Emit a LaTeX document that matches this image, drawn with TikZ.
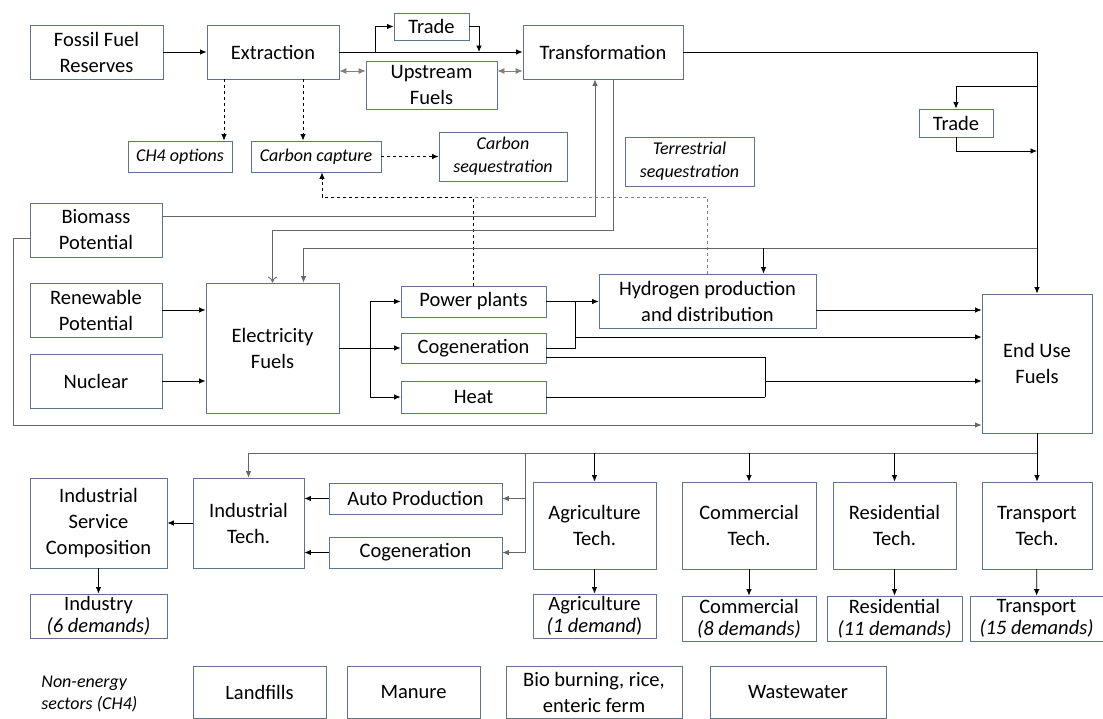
\documentclass[tikz,border=0pt]{standalone}
\usepackage{fontspec}
\setmainfont{Carlito}
\usetikzlibrary{arrows.meta,calc}

\definecolor{boxline}{RGB}{95,115,140}

\begin{document}
\begin{tikzpicture}
[
	              x = 1pt,
	              y = -1pt,
	     line width = 0.8pt,
	           >= {Latex[length=6.5pt,width=5.5pt]},
	  block/.style = { draw=boxline, fill=white, align=center, inner sep=0pt,
	                   font=\fontsize{20.5}{26}\selectfont },
	 demand/.style = { block, font=\fontsize{20.5}{22}\selectfont },
	   note/.style = { block, font=\fontsize{18}{23}\selectfont\itshape },
	   soft/.style = { draw=black!60 },
	 twoway/.style = { {Latex[length=7pt,width=6pt]}-{Latex[length=7pt,width=6pt]}, draw=gray, fill=gray }
]
	\useasboundingbox (0,0) rectangle (1103,718);

	\node (fossil)   at (96.5,52)     [block, minimum width=133, minimum height=54]  {Fossil Fuel\\Reserves};
	\node (extract)  at (273,52)      [block, minimum width=132, minimum height=54]  {Extraction};
	\node (tradeA)   at (431.5,26.5)  [block, minimum width=75,  minimum height=27]  {Trade};
	\node (upstream) at (431.5,85)    [block, minimum width=131, minimum height=48]  {Upstream\\Fuels};
	\node (transf)   at (603,52)      [block, minimum width=160, minimum height=54]  {Transformation};

	\node (ch4)      at (180,156.5)   [note,  minimum width=104, minimum height=31]  {CH4 options};
	\node (ccap)     at (316,156.5)   [note,  minimum width=130, minimum height=31]  {Carbon capture};
	\node (cseq)     at (503,156.5)   [note,  minimum width=128, minimum height=49]  {Carbon\\sequestration};
	\node (terr)     at (689.5,161.5) [note,  minimum width=129, minimum height=49]  {Terrestrial\\sequestration};
	\node (tradeB)   at (956,123)     [block, minimum width=74,  minimum height=28]  {Trade};

	\node (biomass)  at (96,230)      [block, minimum width=132, minimum height=54]  {Biomass\\Potential};
	\node (renew)    at (96,310)      [block, minimum width=132, minimum height=54]  {Renewable\\Potential};
	\node (nuclear)  at (96,381)      [block, minimum width=132, minimum height=54]  {Nuclear};
	\node (elec)     at (272.5,348)   [block, minimum width=133, minimum height=130] {Electricity\\Fuels};
	\node (power)    at (473.5,301.5) [block, minimum width=145, minimum height=31]  {Power plants};
	\node (cogenA)   at (473.5,348)   [block, minimum width=145, minimum height=30]  {Cogeneration};
	\node (heat)     at (473.5,397)   [block, minimum width=145, minimum height=32]  {Heat};
	\node (hydro)    at (707.5,301)   [block, minimum width=217, minimum height=54]  {Hydrogen production\\and distribution};
	\node (euf)      at (1037,363.5)  [block, minimum width=110, minimum height=139] {End Use\\Fuels};

	\node (isc)      at (98.5,523)    [block, minimum width=137, minimum height=90]  {Industrial\\Service\\Composition};
	\node (indtech)  at (248.5,523)   [block, minimum width=111, minimum height=90]  {Industrial\\Tech.};
	\node (auto)     at (415.5,498.5) [block, minimum width=173, minimum height=31]  {Auto Production};
	\node (cogenB)   at (415.5,552.5) [block, minimum width=173, minimum height=31]  {Cogeneration};
	\node (agtech)   at (594.5,525.5) [block, minimum width=123, minimum height=87]  {Agriculture\\Tech.};
	\node (comtech)  at (749,525.5)   [block, minimum width=134, minimum height=87]  {Commercial\\Tech.};
	\node (restech)  at (894.5,525.5) [block, minimum width=123, minimum height=87]  {Residential\\Tech.};
	\node (trtech)   at (1037,525.5)  [block, minimum width=110, minimum height=87]  {Transport\\Tech.};

	\node (industry) at (98.5,616)    [demand, minimum width=137, minimum height=44] {Industry\\\textit{(6 demands)}};
	\node (agri)     at (594.5,616)   [demand, minimum width=123, minimum height=44] {Agriculture\\\textit{(1 demand})};
	\node (comm)     at (749,618.5)   [demand, minimum width=134, minimum height=45] {Commercial\\\textit{(8 demands)}};
	\node (resid)    at (894.5,618.5) [demand, minimum width=135, minimum height=45] {Residential\\\textit{(11 demands)}};
	\node (transp)   at (1036.5,618.5)[demand, minimum width=133, minimum height=45] {Transport\\\textit{(15 demands)}};

	\node (nonen)    at (41,694)      [anchor=west, align=left, inner sep=0pt,
	                                   font=\fontsize{18}{22}\selectfont\itshape]    {Non-energy\\sectors (CH4)};
	\node (landfill) at (259.5,692)   [block, minimum width=133, minimum height=52]  {Landfills};
	\node (manure)   at (413.5,692)   [block, minimum width=133, minimum height=52]  {Manure};
	\node (bioburn)  at (594,692)     [block, minimum width=176, minimum height=52]  {Bio burning, rice,\\enteric ferm};
	\node (waste)    at (798,692)     [block, minimum width=176, minimum height=52]  {Wastewater};

	\coordinate (trsplit)   at (375,52);
	\coordinate (trjoin)    at (479,52);
	\coordinate (tbsplit)   at (1037,86);
	\coordinate (tbjoin)    at (1037,151);
	\coordinate (busH)      at (1037,248);
	\coordinate (dashjoin)  at (473.5,197);
	\coordinate (elsplit)   at (370,348);
	\coordinate (ppjoin)    at (575,301.5);
	\coordinate (htjoin)    at (765,397);
	\coordinate (bioloop)   at (13,425);
	\coordinate (busL)      at (1037,453);
	\coordinate (autosplit) at (525,453);
	\coordinate (exA)       at ([xshift=-49pt]extract.south);
	\coordinate (exB)       at ([xshift=30pt]extract.south);
	\coordinate (hyin)      at ([xshift=56pt]hydro.north);
	\coordinate (hyout)     at ([yshift=-9pt]hydro.east);

	\draw [->] (fossil) -- (extract);
	\draw [->] (extract) -- (transf);
	\draw [->] (trsplit) |- (tradeA);
	\draw [->] (tradeA) -| (trjoin);
	\draw [twoway] ([yshift=-19pt]extract.east) -- ([yshift=14pt]upstream.west);
	\draw [twoway] ([yshift=14pt]upstream.east) -- ([yshift=-19pt]transf.west);

	\draw [->, dashed] (exA) -- (exA |- ch4.north);
	\draw [->, dashed] (exB) -- (exB |- ccap.north);
	\draw [->, dashed] (ccap) -- (cseq);
	\draw [->, dashed] (power) -- (dashjoin) -| ([xshift=6pt]ccap.south);
	\draw [dashed, gray] (hydro) |- (dashjoin);

	\draw [->] (transf) -| (euf);
	\draw [->] (tbsplit) -| (tradeB);
	\draw [->] (tradeB) |- (tbjoin);
	\draw [->, soft] ([yshift=14pt]biomass.east) -| ([xshift=-8pt]transf.south);
	\draw [-{To[length=6pt,width=9pt]}, soft] ([xshift=10pt]transf.south) |- (elec.north |- 0,230) -- (elec.north);
	\draw [->, soft] (busH) -| ([xshift=31pt]elec.north);
	\draw [->] (hyin |- busH) -- (hyin);

	\draw [->] (renew) -- (renew -| elec.west);
	\draw [->] (nuclear) -- (nuclear -| elec.west);
	\draw [->] (elec) -- (cogenA);
	\draw [->] (elsplit) |- (power);
	\draw [->] (elsplit) |- (heat);
	\draw [->] (power) -- (power -| hydro.west);
	\draw (cogenA) -| (ppjoin);
	\draw [->] (ppjoin |- 0,337) -- (euf.west |- 0,337);
	\draw [->] (hyout) -- (hyout -| euf.west);
	\draw ([yshift=-9pt]cogenA.east) -| (htjoin);
	\draw (heat) -- (htjoin);
	\draw [->] (htjoin |- 0,381) -- (euf.west |- 0,381);
	\draw [->, soft] ([yshift=-8pt]biomass.west) -| (bioloop) -- (bioloop -| euf.west);

	\draw [->] (euf) -- (trtech);
	\draw [->, soft] (busL) -| (indtech);
	\draw [->] (agtech |- busL) -- (agtech);
	\draw [->] (comtech |- busL) -- (comtech);
	\draw [->] (restech |- busL) -- (restech);
	\draw [->, soft] (autosplit) |- (auto);
	\draw [->, soft] (autosplit) |- (cogenB);
	\draw [->] (auto) -- (auto -| indtech.east);
	\draw [->] (cogenB) -- (cogenB -| indtech.east);
	\draw [->] (indtech) -- (isc);
	\draw [->] (isc) -- (industry);
	\draw [->] (agtech) -- (agri);
	\draw [->] (comtech) -- (comm);
	\draw [->] (restech) -- (resid);
	\draw [->] (trtech) -- (transp);

\end{tikzpicture}
\end{document}
